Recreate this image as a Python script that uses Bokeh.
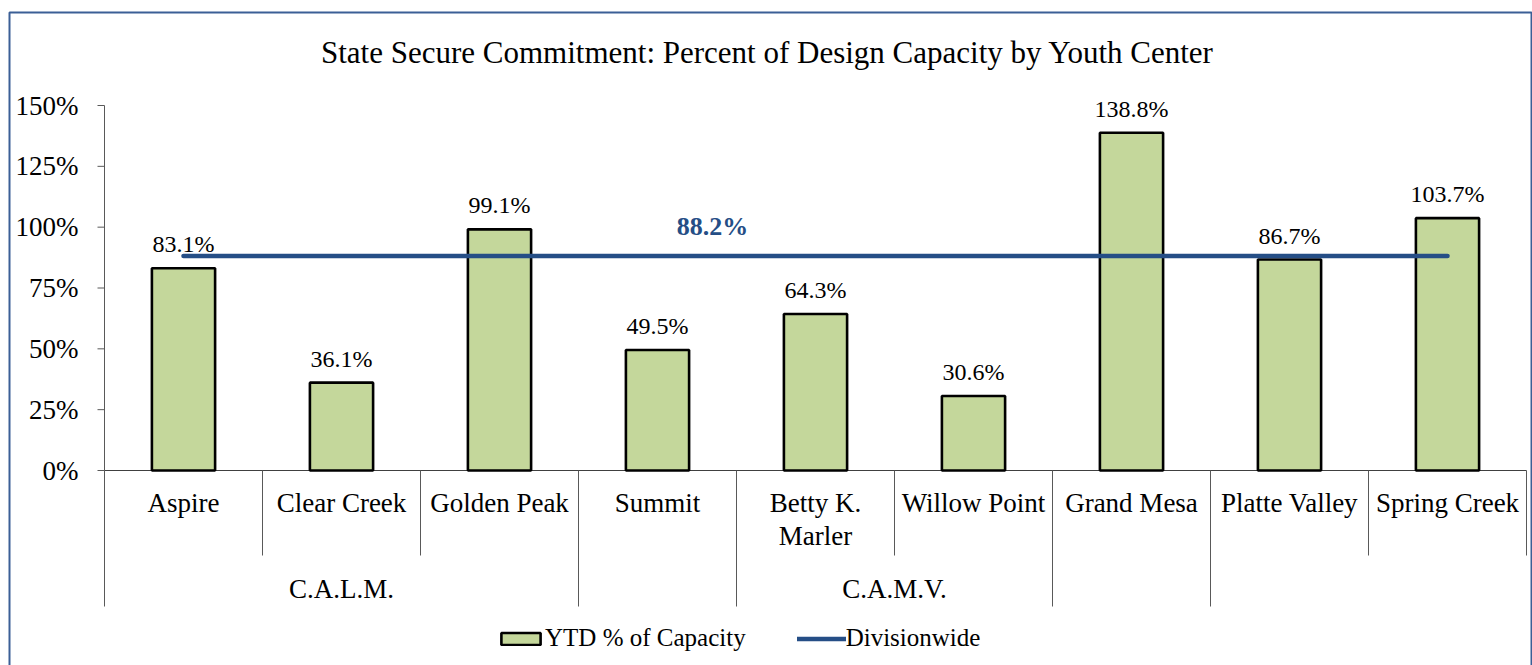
from bokeh.plotting import figure
from bokeh.models import Range1d, Legend, LegendItem, ColumnDataSource
from bokeh.core.properties import value
from bokeh.embed import file_html
from bokeh.resources import INLINE

# ---------------- data ----------------
title_text = "State Secure Commitment: Percent of Design Capacity by Youth Center"
centers = ["Aspire", "Clear Creek", "Golden Peak", "Summit", "Betty K.\nMarler",
           "Willow Point", "Grand Mesa", "Platte Valley", "Spring Creek"]
ytd_pct = [83.1, 36.1, 99.1, 49.5, 64.3, 30.6, 138.8, 86.7, 103.7]
divisionwide_pct = 88.2
groups = ["C.A.L.M.", "", "C.A.M.V.", "", ""]
group_sizes = [3, 1, 2, 1, 2]
y_ticks = [0, 25, 50, 75, 100, 125, 150]
y_tick_labels = [f"{t}%" for t in y_ticks]
series_names = ["YTD % of Capacity", "Divisionwide"]

# ---------------- layout (pixels) ----------------
W, H = 1532, 665
L, R, T, B = 104, 1526, 105, 470
n = len(centers)
cw = (R - L) / n
ppu = (B - T) / max(y_ticks)

def X(px):
    return (px - L) / cw

def Y(py):
    return (B - py) / ppu

FONT = value("Liberation Serif")
BAR_FILL = "#C4D79B"
LINE_COL = "#254E86"
AXIS_COL = "#595959"

p = figure(width=W, height=H, x_range=Range1d(X(0), X(W)), y_range=Range1d(Y(H), Y(0)),
           output_backend="svg", toolbar_location=None,
           x_axis_location=None, y_axis_location=None, min_border=0,
           outline_line_color=None)
p.grid.visible = False
p.background_fill_color = "white"
p.border_fill_color = "white"

# outer chart border
p.quad(left=[X(9)], right=[X(1531)], top=[Y(12)], bottom=[Y(700)],
       fill_color=None, line_color="#3B5F96", line_width=2)

# title
p.text(x=[X(767)], y=[Y(52)], text=[title_text], text_font=FONT, text_font_size="31px",
       text_align="center", text_baseline="middle", text_color="#000000")

# y axis
p.segment(x0=[0], y0=[0], x1=[0], y1=[max(y_ticks)], line_color=AXIS_COL, line_width=1)
p.segment(x0=[X(97)] * len(y_ticks), y0=y_ticks, x1=[0] * len(y_ticks), y1=y_ticks,
          line_color=AXIS_COL, line_width=1)
p.text(x=[X(78)] * len(y_ticks), y=y_ticks, text=y_tick_labels, text_font=FONT,
       text_font_size="27px", text_align="right", text_baseline="middle", text_color="#000000")

# x axis + separators
p.segment(x0=[0], y0=[0], x1=[n], y1=[0], line_color="#404040", line_width=1)
long_b = []
acc = 0
for s in group_sizes:
    long_b.append(acc)
    acc += s
sx, sy1 = [], []
for b in range(n + 1):
    sx.append(b)
    sy1.append(Y(606) if b in long_b else Y(555))
p.segment(x0=sx, y0=[0] * len(sx), x1=sx, y1=sy1, line_color=AXIS_COL, line_width=1)

xs = [i + 0.5 for i in range(n)]
p.text(x=xs, y=[Y(487)] * n, text=centers, text_font=FONT, text_font_size="27px",
       text_align="center", text_baseline="top", text_line_height=1.12, text_color="#000000")

gx = []
acc = 0
for s in group_sizes:
    gx.append(acc + s / 2)
    acc += s
p.text(x=gx, y=[Y(588)] * len(gx), text=groups, text_font=FONT, text_font_size="27px",
       text_align="center", text_baseline="middle", text_color="#000000")

# bars
src = ColumnDataSource(dict(x=xs, top=ytd_pct, label=[f"{v:.1f}%" for v in ytd_pct]))
bars = p.vbar(x="x", top="top", bottom=0, width=0.4, source=src,
              fill_color=BAR_FILL, line_color="#000000", line_width=2.6)
p.text(x="x", y="top", text="label", source=src, y_offset=-24, text_font=FONT,
       text_font_size="24px", text_align="center", text_baseline="alphabetic", text_color="#000000")

# divisionwide line
div_line = p.line(x=[xs[0], xs[-1]], y=[divisionwide_pct] * 2, line_color=LINE_COL,
                  line_width=4.5, line_cap="round")
p.text(x=[X(712)], y=[divisionwide_pct], text=[f"{divisionwide_pct:.1f}%"], y_offset=-29,
       text_font=FONT, text_font_size="26px", text_font_style="bold", text_color=LINE_COL,
       text_align="center", text_baseline="middle")

legend = Legend(items=[LegendItem(label=series_names[0], renderers=[bars]),
                       LegendItem(label=series_names[1], renderers=[div_line])],
                orientation="horizontal", location=(496, 13), glyph_width=49, glyph_height=15,
                label_standoff=0, spacing=51, padding=0, margin=0, border_line_color=None,
                background_fill_alpha=0, label_text_font="Liberation Serif",
                label_text_font_size="25px", label_text_color="#000000")
p.add_layout(legend)

open("out.html", "w").write(file_html(p, INLINE))
